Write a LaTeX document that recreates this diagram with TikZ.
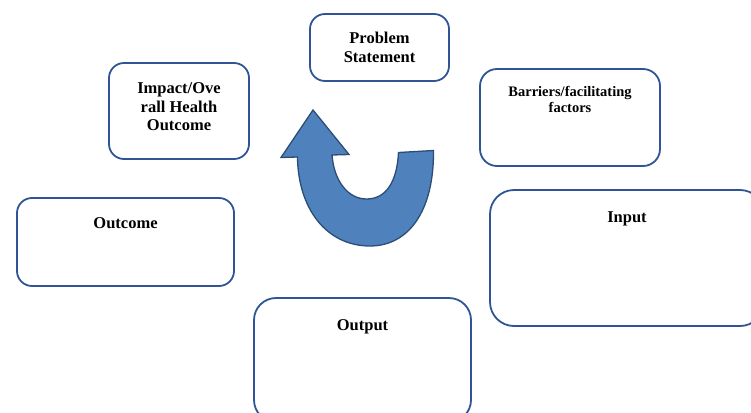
\documentclass[tikz,border=0pt]{standalone}
\usepackage{fontspec}
\setmainfont{Liberation Serif}
\definecolor{boxline}{HTML}{2F5597}
\definecolor{arrfill}{HTML}{4F81BD}
\definecolor{arrline}{HTML}{2C4D75}
\tikzset{
  rbox/.style={draw=boxline, line width=1.8pt, rounded corners=#1, fill=white, inner sep=0pt},
  rbox/.default=15pt,
  lbl/.style={font=\bfseries\fontsize{16.5}{18.5}\selectfont, align=center, inner sep=0pt},
  slbl/.style={font=\bfseries\fontsize{14.5}{16}\selectfont, align=center, inner sep=0pt},
}
\begin{document}
\begin{tikzpicture}[x=1pt,y=-1pt]
\clip (0,0) rectangle (751,412);
\fill[white] (0,0) rectangle (751,412);
% boxes
\node[rbox, minimum width=139pt, minimum height=67pt] (prob) at (379.5,47.5) {};
\node[lbl] (probt) at (prob.center) {Problem\\Statement};
\node[rbox, minimum width=140pt, minimum height=96pt] (imp) at (179,111) {};
\node[lbl] (impt) at ([yshift=4pt]imp.center) {Impact/Ove\\rall Health\\Outcome};
\node[rbox=17pt, minimum width=180pt, minimum height=97pt] (barr) at (570,117.5) {};
\node[slbl] (barrt) at ([yshift=-31pt]barr.north) {Barriers/facilitating\\factors};
\node[rbox, minimum width=217pt, minimum height=88pt] (outc) at (125.5,242) {};
\node[lbl] (outct) at ([yshift=-26.5pt]outc.north) {Outcome};
\node[rbox=24pt, minimum width=274pt, minimum height=136pt] (inp) at (627,258) {};
\node[lbl] (inpt) at ([yshift=-29.5pt]inp.north) {Input};
\node[rbox=22pt, minimum width=217pt, minimum height=124pt] (outp) at (362.5,360) {};
\node[lbl] (outpt) at ([yshift=-29.5pt]outp.north) {Output};
% curved arrow
\draw[fill=arrfill, draw=arrline, line width=1.3pt, line join=miter]
  (313,110) -- (349,154.5) -- (332,155)
  .. controls (334,181) and (348,199) .. (366.5,199)
  .. controls (386,199) and (397,182) .. (398.5,152.5)
  -- (433.5,150.5)
  .. controls (434,212) and (408,246) .. (370,246)
  .. controls (326,246) and (298,208) .. (297.5,157)
  -- (281,157.5) -- cycle;
\end{tikzpicture}
\end{document}
